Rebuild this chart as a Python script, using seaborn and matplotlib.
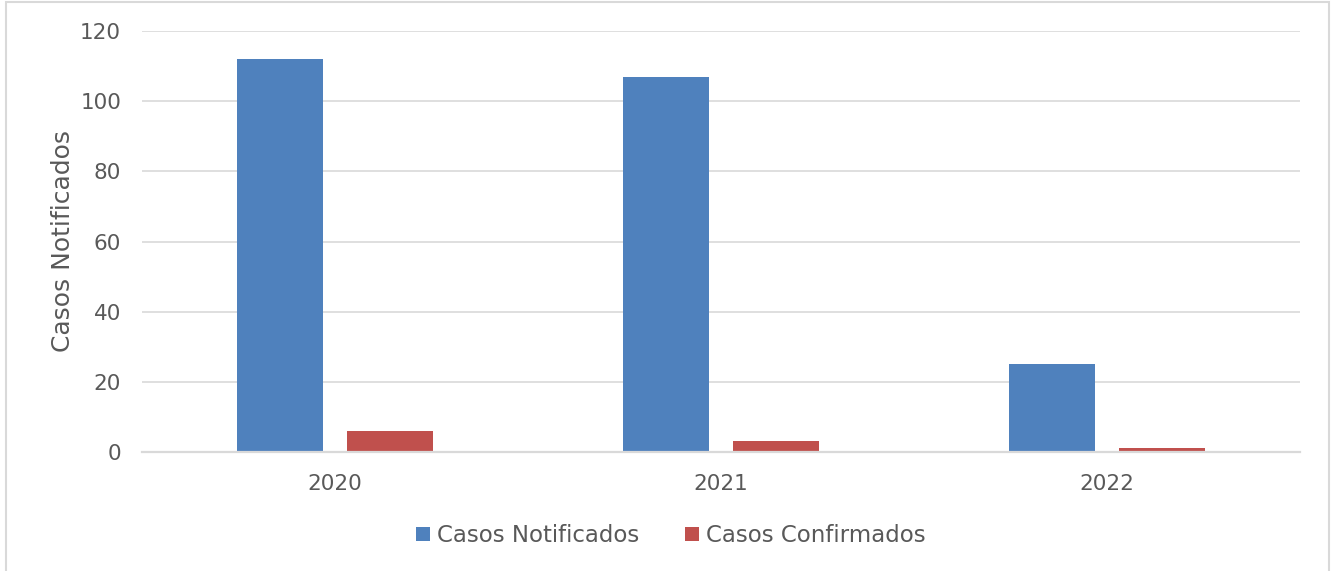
import matplotlib
matplotlib.use("Agg")
import matplotlib.pyplot as plt
from matplotlib.patches import Rectangle
import seaborn as sns
import pandas as pd

years = ["2020", "2021", "2022"]
notificados = [112, 107, 25]
confirmados = [6, 3, 1]
series_names = ["Casos Notificados", "Casos Confirmados"]
yticks = [0, 20, 40, 60, 80, 100, 120]

df = pd.DataFrame({
    "Ano": years * 2,
    "Casos": notificados + confirmados,
    "Serie": [series_names[0]] * 3 + [series_names[1]] * 3,
})

sns.set_theme(style="white")
plt.rcParams["font.family"] = ["DejaVu Sans"]
text_color = "#595959"
grid_color = "#d9d9d9"

fig = plt.figure(figsize=(13.31, 5.71), dpi=100)
ax = fig.add_axes([142 / 1331, 1 - 452 / 571, (1300 - 142) / 1331, (452 - 31) / 571])

sns.barplot(data=df, x="Ano", y="Casos", hue="Serie", order=years,
            hue_order=series_names, palette=["#4f81bd", "#c0504d"],
            width=0.57, gap=0.22, ax=ax, legend=True, saturation=1,
            linewidth=0)

ax.set_ylim(0, 120)
ax.set_yticks(yticks)
ax.set_xlim(-0.5, 2.5)
ax.yaxis.grid(True, color=grid_color, linewidth=1.2)
ax.set_axisbelow(True)
for s in ["top", "right", "left"]:
    ax.spines[s].set_visible(False)
ax.spines["bottom"].set_color(grid_color)
ax.spines["bottom"].set_linewidth(1.6)
ax.tick_params(axis="both", length=0, labelsize=15.5, colors=text_color)
ax.tick_params(axis="x", pad=16)
ax.tick_params(axis="y", pad=15)
ax.set_xlabel("")
ax.set_ylabel("Casos Notificados", fontsize=18, color=text_color, labelpad=4)

handles, labels = ax.get_legend_handles_labels()
ax.get_legend().remove()
fig.legend(handles, labels, loc="center", bbox_to_anchor=(0.504, 0.062), ncol=2,
           frameon=False, fontsize=16.5, labelcolor=text_color,
           handlelength=0.6, handleheight=0.6, handletextpad=0.3, columnspacing=2.0)

fig.add_artist(Rectangle((6 / 1331, -0.05), (1329 - 6) / 1331, 1.05 - 2 / 571,
                         transform=fig.transFigure, fill=False,
                         edgecolor=grid_color, linewidth=1.5))

fig.savefig("out.png", dpi=100)
